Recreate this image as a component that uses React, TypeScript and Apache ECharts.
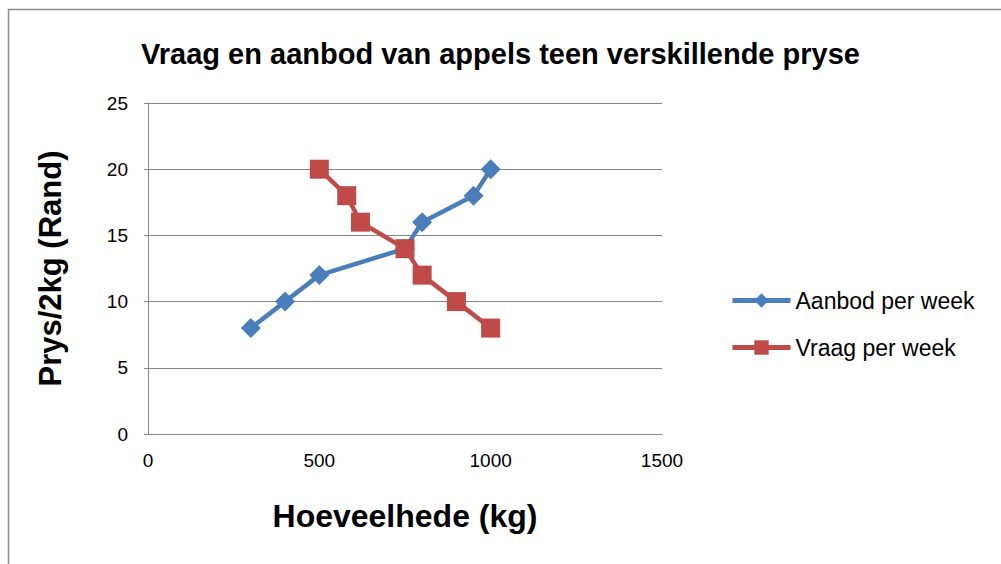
import React, { useEffect, useRef } from "react";
import * as echarts from "echarts";

const aanbodX = [300, 400, 500, 750, 800, 950, 1000];
const aanbodY = [8, 10, 12, 14, 16, 18, 20];
const vraagX = [500, 580, 620, 750, 800, 900, 1000];
const vraagY = [20, 18, 16, 14, 12, 10, 8];
const seriesNames = ["Aanbod per week", "Vraag per week"];
const titleText = "Vraag en aanbod van appels teen verskillende pryse";
const xAxisTitle = "Hoeveelhede (kg)";
const yAxisTitle = "Prys/2kg (Rand)";

const FONT = "'Liberation Sans', 'Noto Sans', sans-serif";

export default function App() {
  const ref = useRef<HTMLDivElement>(null);
  useEffect(() => {
    if (!ref.current) return;
    const chart = echarts.init(ref.current, null, { renderer: "svg" });
    const zip = (xs: number[], ys: number[]) => xs.map((x, i) => [x, ys[i]]);
    chart.setOption({
      animation: false,
      backgroundColor: "#ffffff",
      title: {
        text: titleText,
        left: "center",
        top: 34,
        textStyle: { fontFamily: FONT, fontWeight: "bold", fontSize: 29, color: "#000" },
      },
      graphic: [
        {
          type: "rect",
          shape: { x: 8.5, y: 9.5, width: 1000, height: 560 },
          style: { fill: "none", stroke: "#8c8c8c", lineWidth: 1.5 },
          silent: true,
        },
      ],
      legend: {
        orient: "vertical",
        left: 725,
        top: 284,
        itemWidth: 58,
        itemHeight: 18,
        itemGap: 24,
        lineStyle: { width: 5 },
        textStyle: { fontFamily: FONT, fontSize: 23, color: "#000" },
        data: seriesNames,
      },
      grid: { left: 148, right: 339, top: 103, bottom: 130, containLabel: false },
      xAxis: {
        type: "value",
        min: 0,
        max: 1500,
        interval: 500,
        name: xAxisTitle,
        nameLocation: "middle",
        nameGap: 66,
        nameTextStyle: { fontFamily: FONT, fontWeight: "bold", fontSize: 32, color: "#000" },
        axisLine: { show: true, lineStyle: { color: "#868686", width: 1 } },
        axisTick: { show: false },
        splitLine: { show: false },
        axisLabel: {
          fontFamily: FONT,
          fontSize: 19,
          color: "#000",
          margin: 17,
          formatter: (v: number) => String(v),
        },
      },
      yAxis: {
        type: "value",
        min: 0,
        max: 25,
        interval: 5,
        name: yAxisTitle,
        nameLocation: "middle",
        nameGap: 82,
        nameRotate: 90,
        nameTextStyle: { fontFamily: FONT, fontWeight: "bold", fontSize: 31, color: "#000" },
        axisLine: { show: true, lineStyle: { color: "#868686", width: 1 } },
        axisTick: { show: true, length: 4, lineStyle: { color: "#868686" } },
        splitLine: { show: true, lineStyle: { color: "#868686", width: 1 } },
        axisLabel: {
          fontFamily: FONT,
          fontSize: 19,
          color: "#000",
          margin: 20,
          formatter: (v: number) => String(v),
        },
      },
      series: [
        {
          name: seriesNames[0],
          type: "line",
          data: zip(aanbodX, aanbodY),
          symbol: "diamond",
          symbolSize: 20,
          color: "#4a7ebb",
          lineStyle: { width: 4.5, color: "#4a7ebb" },
          itemStyle: { color: "#4a7ebb" },
        },
        {
          name: seriesNames[1],
          type: "line",
          data: zip(vraagX, vraagY),
          symbol: "rect",
          symbolSize: 19,
          color: "#be4b48",
          lineStyle: { width: 4.5, color: "#be4b48" },
          itemStyle: { color: "#be4b48" },
        },
      ],
    });
    return () => chart.dispose();
  }, []);
  return (
    <div
      ref={ref}
      style={{ position: "absolute", left: 0, top: 0, width: 1001, height: 564 }}
    />
  );
}
